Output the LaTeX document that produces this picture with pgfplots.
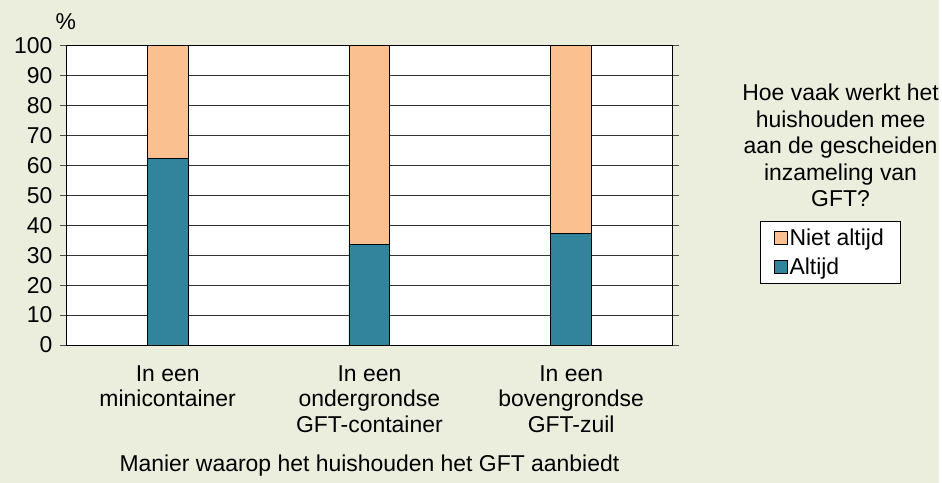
\documentclass[border=0pt]{standalone}
\usepackage{fontspec}
\setmainfont{Liberation Sans}
\usepackage{pgfplots}
\pgfplotsset{compat=1.18}

\definecolor{bgc}{HTML}{EBEDDD}
\definecolor{teal}{HTML}{31849B}
\definecolor{peach}{HTML}{FAC090}

\begin{document}
\begin{tikzpicture}[x=1pt,y=1pt,font=\fontsize{23}{25.5}\selectfont]
  % achtergrond
  \fill[bgc] (0,0) rectangle (942,484);

  \begin{axis}[
      at={(67pt,138pt)}, anchor=south west,
      scale only axis, width=607pt, height=300pt,
      ybar stacked, bar width=41pt,
      xmin=-0.5, xmax=2.5, ymin=0, ymax=100,
      ytick={0,10,...,100},
      xtick={0,1,2},
      xticklabels={{In een\\minicontainer},{In een\\ondergrondse\\GFT-container},{In een\\bovengrondse\\GFT-zuil}},
      xticklabel style={align=center, yshift=-10pt},
      major x tick style={draw=none},
      extra x ticks={-0.5,0.5,1.5,2.5},
      extra x tick labels={},
      extra x tick style={tick align=outside, major tick length=6pt, major tick style={black, line width=0.8pt}, grid=none},
      tick align=outside, major tick length=7pt,
      major y tick style={black!70, line width=0.8pt},
      yticklabel style={xshift=-4pt},
      /pgf/number format/assume math mode=true,
      ymajorgrids, major grid style={black!80, line width=0.8pt},
      axis line style={black, line width=0.9pt},
      axis background/.style={fill=white},
      reverse legend,
      legend style={at={(1.145,0.413)}, anchor=north west, draw=black, fill=white,
                    font=\fontsize{23}{25.5}\selectfont, row sep=7pt, inner xsep=14pt, inner ysep=5pt,
                    /tikz/every even column/.append style={column sep=0pt}},
      legend cell align=left,
      legend image code/.code={\fill[#1, draw=black, line width=0.6pt] (0pt,-6.5pt) rectangle (13pt,6.5pt);},
    ]
    \addplot[fill=teal, draw=black, line width=0.9pt] coordinates {(0,62.5) (1,33.6) (2,37.3)};
    \addplot[fill=peach, draw=black, line width=0.9pt] coordinates {(0,37.5) (1,66.4) (2,62.7)};
    \legend{Altijd, Niet altijd}
  \end{axis}

  \node at (66,462) {\%};
  \node[align=center, font=\fontsize{23}{26.5}\selectfont] at (843,338)
    {Hoe vaak werkt het\\huishouden mee\\aan de gescheiden\\inzameling van\\GFT?};
  \node at (370.5,17) {Manier waarop het huishouden het GFT aanbiedt};
\end{tikzpicture}
\end{document}
